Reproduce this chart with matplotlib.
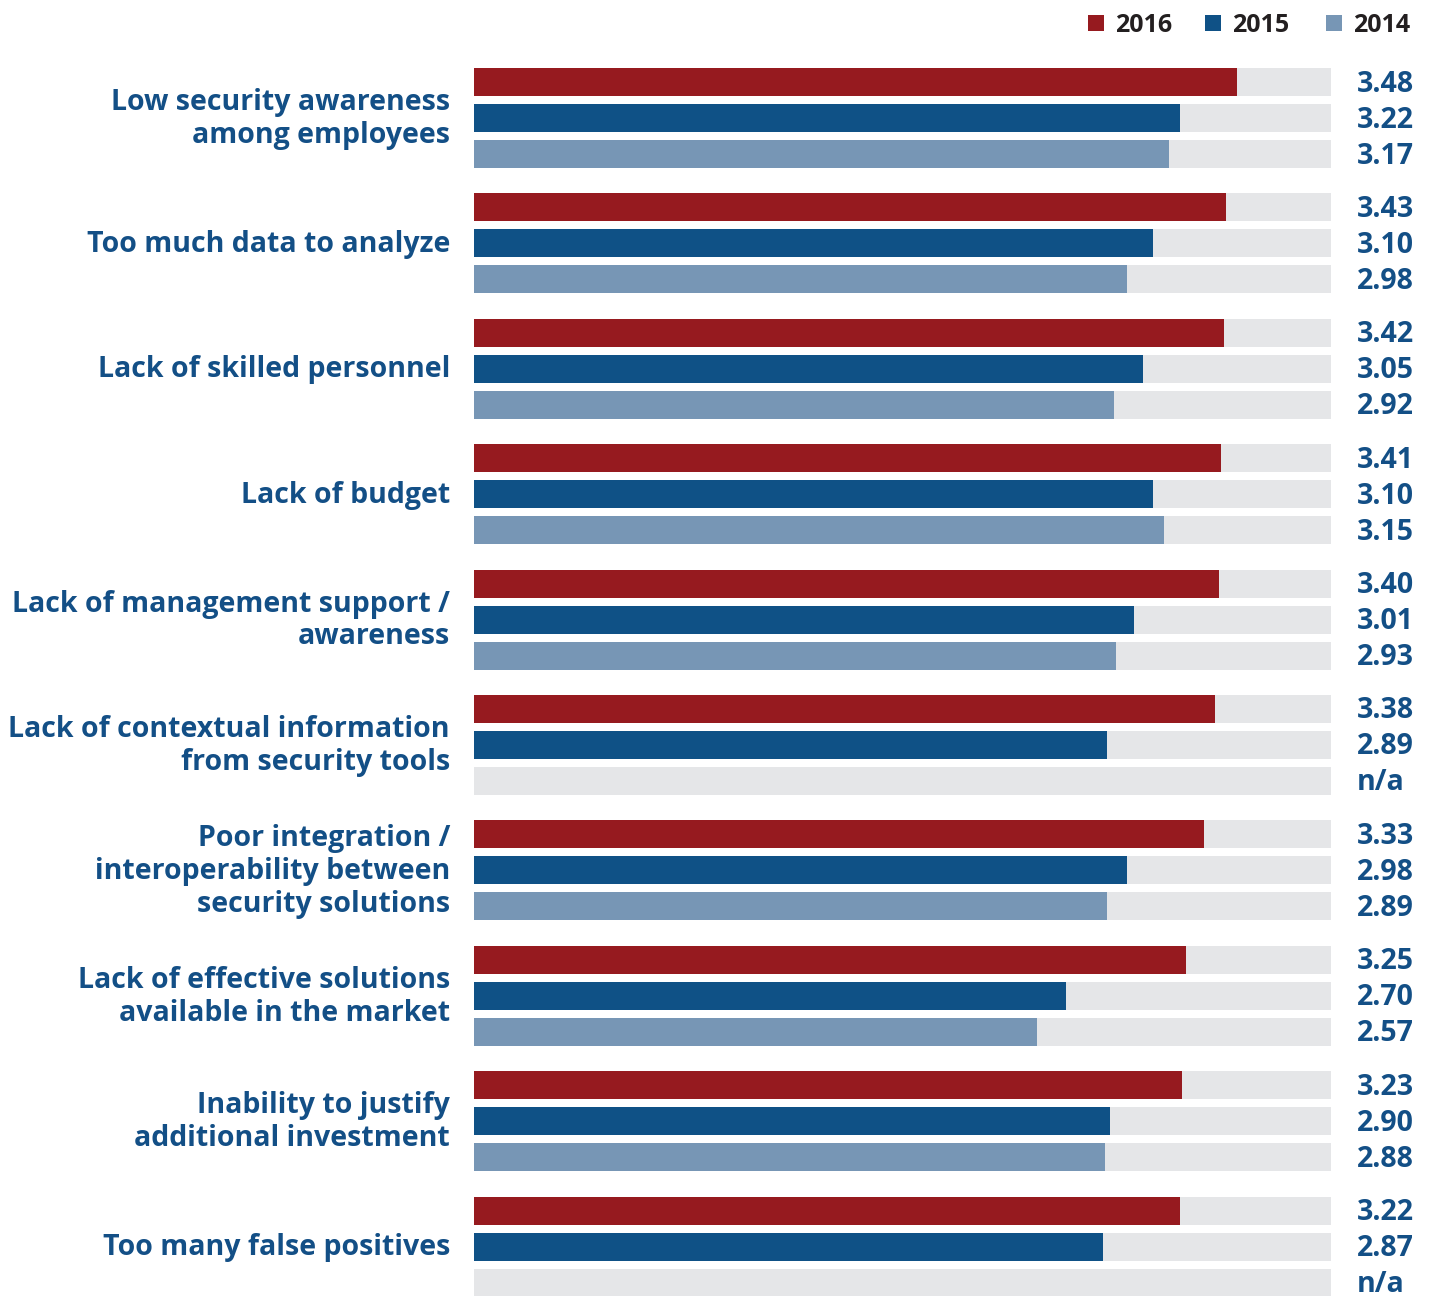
import matplotlib
matplotlib.use("Agg")
import matplotlib.pyplot as plt
import numpy as np

categories = [
    "Low security awareness\namong employees",
    "Too much data to analyze",
    "Lack of skilled personnel",
    "Lack of budget",
    "Lack of management support /\nawareness",
    "Lack of contextual information\nfrom security tools",
    "Poor integration /\ninteroperability between\nsecurity solutions",
    "Lack of effective solutions\navailable in the market",
    "Inability to justify\nadditional investment",
    "Too many false positives",
]
years = ["2016", "2015", "2014"]
v2016 = [3.48, 3.43, 3.42, 3.41, 3.40, 3.38, 3.33, 3.25, 3.23, 3.22]
v2015 = [3.22, 3.10, 3.05, 3.10, 3.01, 2.89, 2.98, 2.70, 2.90, 2.87]
v2014 = [3.17, 2.98, 2.92, 3.15, 2.93, None, 2.89, 2.57, 2.88, None]
scale_max = 3.91

colors = ["#961a1f", "#0f5186", "#7796b5"]
bg_color = "#e5e6e8"
text_blue = "#134f86"
legend_text = "#231f20"
FONT = "Open Sans"

W, H = 1435, 1296
fig = plt.figure(figsize=(W / 100, H / 100), dpi=100)
x0, x1 = 474, 1331
ax = fig.add_axes([x0 / W, 0, (x1 - x0) / W, 1])
ax.set_xlim(0, scale_max)
ax.set_ylim(H, 0)
ax.axis("off")

group_top = 68
group_pitch = 125.4
bar_pitch = 36
bar_h = 28

series = [v2016, v2015, v2014]
for i, cat in enumerate(categories):
    gtop = group_top + group_pitch * i
    for j, vals in enumerate(series):
        yc = gtop + bar_h / 2 + bar_pitch * j
        ax.barh(yc, scale_max, height=bar_h, color=bg_color, left=0, linewidth=0)
        v = vals[i]
        if v is not None:
            ax.barh(yc, v, height=bar_h, color=colors[j], left=0, linewidth=0)
            txt = f"{v:.2f}"
        else:
            txt = "n/a"
        ax.annotate(txt, xy=(scale_max, yc), xytext=(26, -2), textcoords="offset pixels",
                    ha="left", va="center", fontsize=20.5, fontweight="bold",
                    color=text_blue, family=FONT)
    ymid = gtop + bar_h / 2 + bar_pitch
    ax.annotate(cat, xy=(0, ymid), xytext=(-24, -1), textcoords="offset pixels",
                ha="right", va="center", fontsize=20.5, fontweight="bold",
                color=text_blue, family=FONT, linespacing=1.17, multialignment="right")

# legend
leg_sq_x = [1088, 1205, 1326]
for k, yr in enumerate(years):
    sx = leg_sq_x[k]
    fig.patches.append(plt.Rectangle((sx / W, 1 - 31 / H), 16 / W, 16 / H,
                                     transform=fig.transFigure, color=colors[k], linewidth=0))
    fig.text((sx + 27) / W, 1 - 25.5 / H, yr, ha="left", va="center", fontsize=18,
             fontweight="bold", color=legend_text, family=FONT)

fig.savefig("out.png", dpi=100, facecolor="white")
